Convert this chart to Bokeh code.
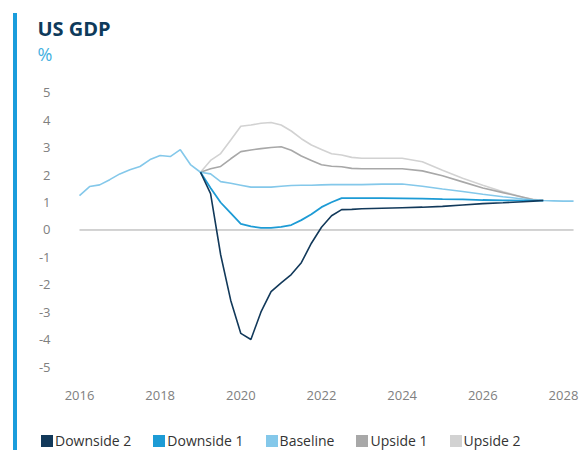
from bokeh.plotting import figure
from bokeh.models import Range1d, FixedTicker, Legend, LegendItem, Title, Div
from bokeh.layouts import row, column
from bokeh.embed import file_html
from bokeh.resources import INLINE

nan = float("nan")

# ---- data -------------------------------------------------------------
hist_period = [2016.0, 2016.25, 2016.5, 2016.75, 2017.0, 2017.25, 2017.5,
               2017.75, 2018.0, 2018.25, 2018.5, 2018.75, 2019.0]
hist_baseline = [1.25, 1.58, 1.64, 1.83, 2.04, 2.19, 2.31,
                 2.56, 2.71, 2.67, 2.92, 2.38, 2.10]

fc_period = [2019.0, 2019.25, 2019.5, 2019.75, 2020.0, 2020.25, 2020.5, 2020.75,
             2021.0, 2021.25, 2021.5, 2021.75, 2022.0, 2022.25, 2022.5, 2022.75,
             2023.0, 2023.5, 2024.0, 2024.5, 2025.0, 2025.5, 2026.0, 2026.5,
             2027.0, 2027.25, 2027.5, 2027.75, 2028.0, 2028.25]

baseline_fc = [2.10, 2.04, 1.76, 1.70, 1.63, 1.56, 1.56, 1.56,
               1.59, 1.62, 1.63, 1.63, 1.64, 1.65, 1.65, 1.65,
               1.65, 1.67, 1.67, 1.59, 1.49, 1.40, 1.30, 1.21,
               1.13, 1.09, 1.07, 1.06, 1.05, 1.05]
downside_1 = [2.10, 1.53, 1.00, 0.61, 0.22, 0.13, 0.08, 0.08,
              0.11, 0.18, 0.36, 0.57, 0.83, 1.01, 1.16, 1.16,
              1.16, 1.16, 1.15, 1.14, 1.12, 1.11, 1.09, 1.08,
              1.07, 1.07, 1.07, nan, nan, nan]
downside_2 = [2.10, 1.32, -0.90, -2.56, -3.76, -3.98, -2.98, -2.24,
              -1.92, -1.62, -1.19, -0.48, 0.10, 0.52, 0.74, 0.75,
              0.77, 0.79, 0.81, 0.83, 0.86, 0.91, 0.96, 0.99,
              1.03, 1.05, 1.07, nan, nan, nan]
upside_1 = [2.10, 2.23, 2.31, 2.59, 2.85, 2.91, 2.96, 3.00,
            3.03, 2.90, 2.69, 2.53, 2.37, 2.32, 2.30, 2.24,
            2.23, 2.23, 2.23, 2.15, 1.97, 1.75, 1.53, 1.36,
            1.19, 1.10, 1.07, nan, nan, nan]
upside_2 = [2.10, 2.53, 2.78, 3.27, 3.77, 3.82, 3.88, 3.91,
            3.82, 3.60, 3.32, 3.09, 2.93, 2.77, 2.73, 2.64,
            2.61, 2.61, 2.61, 2.48, 2.17, 1.88, 1.63, 1.39,
            1.19, 1.12, 1.07, nan, nan, nan]

series_names = ["Downside 2", "Downside 1", "Baseline", "Upside 1", "Upside 2"]
series_colors = ["#12395a", "#1d9bd5", "#84c8ea", "#a8a8a8", "#d2d2d2"]

x_ticks = [2016, 2018, 2020, 2022, 2024, 2026, 2028]
x_tick_labels = ["2016", "2018", "2020", "2022", "2024", "2026", "2028"]
y_ticks = [5, 4, 3, 2, 1, 0, -1, -2, -3, -4, -5]
y_tick_labels = ["5", "4", "3", "2", "1", "0", "-1", "-2", "-3", "-4", "-5"]

title_text = "US GDP"
unit_text = "%"

FONT = "Open Sans"

# ---- left accent bar ----------------------------------------------------
bar = Div(text="", width=4, height=437, margin=(13, 3, 0, 13),
          styles={"background-color": "#1a9ddc"})

# ---- main chart -----------------------------------------------------------
p = figure(width=565, height=415, output_backend="svg", toolbar_location=None,
           x_range=Range1d(2015.033, 2028.348), y_range=Range1d(-5.473, 5.982),
           min_border_left=20, min_border_right=8, min_border_top=65,
           min_border_bottom=35)
p.outline_line_color = None
p.xgrid.visible = False
p.ygrid.visible = False

p.title.text = title_text
p.title.text_font = FONT
p.title.text_font_style = "bold"
p.title.text_font_size = "20px"
p.title.text_color = "#0e3a5b"
p.title.align = "left"
p.title.offset = -3
p.title.standoff = -5

p.add_layout(Title(text=unit_text, text_font=FONT, text_font_style="normal",
                   text_font_size="18px", text_color="#43b0e0", align="left",
                   offset=-3, standoff=0), "above")

for ax in (p.xaxis[0], p.yaxis[0]):
    ax.axis_line_color = None
    ax.major_tick_line_color = None
    ax.minor_tick_line_color = None
    ax.major_tick_out = 0
    ax.major_tick_in = 0
    ax.minor_tick_out = 0
    ax.major_label_text_color = "#808080"
    ax.major_label_text_font = FONT
    ax.major_label_text_font_size = "13px"

p.xaxis[0].ticker = FixedTicker(ticks=x_ticks)
p.xaxis[0].major_label_overrides = {t: l for t, l in zip(x_ticks, x_tick_labels)}
p.xaxis[0].major_label_standoff = 10
p.yaxis[0].ticker = FixedTicker(ticks=y_ticks)
p.yaxis[0].major_label_overrides = {t: l for t, l in zip(y_ticks, y_tick_labels)}
p.yaxis[0].major_label_standoff = -10

# zero line
p.line(x=[hist_period[0], fc_period[-1]], y=[0, 0], line_color="#a6a6a6", line_width=1)

# series (light ones first)
p.line(x=fc_period, y=upside_2, line_color=series_colors[4], line_width=1.6)
p.line(x=fc_period, y=upside_1, line_color=series_colors[3], line_width=1.6)
p.line(x=hist_period, y=hist_baseline, line_color=series_colors[2], line_width=1.6)
p.line(x=fc_period, y=baseline_fc, line_color=series_colors[2], line_width=1.6)
p.line(x=fc_period, y=downside_1, line_color=series_colors[1], line_width=1.8)
p.line(x=fc_period, y=downside_2, line_color=series_colors[0], line_width=1.6)

# ---- legend strip -------------------------------------------------------
lf = figure(width=565, height=35, output_backend="svg", toolbar_location=None,
            x_range=Range1d(0, 1), y_range=Range1d(0, 1), min_border=0,
            min_border_left=20, x_axis_location=None, y_axis_location=None,
            title_location=None)
lf.outline_line_color = None
lf.xgrid.visible = False
lf.ygrid.visible = False

items = []
for name, color in zip(series_names, series_colors):
    r = lf.rect(x=[nan], y=[nan], width=1, height=1, fill_color=color, line_color=None)
    items.append(LegendItem(label=name, renderers=[r]))

legend = Legend(items=items, orientation="horizontal", location=(-1, 0),
                glyph_width=15, glyph_height=15, label_standoff=1, spacing=20,
                padding=0, margin=0, border_line_color=None,
                background_fill_alpha=0, label_text_font=FONT,
                label_text_font_size="14px", label_text_color="#333333",
                label_height=16)
lf.add_layout(legend)

layout = row(bar, column(p, lf))

open("out.html", "w").write(file_html(layout, INLINE))
